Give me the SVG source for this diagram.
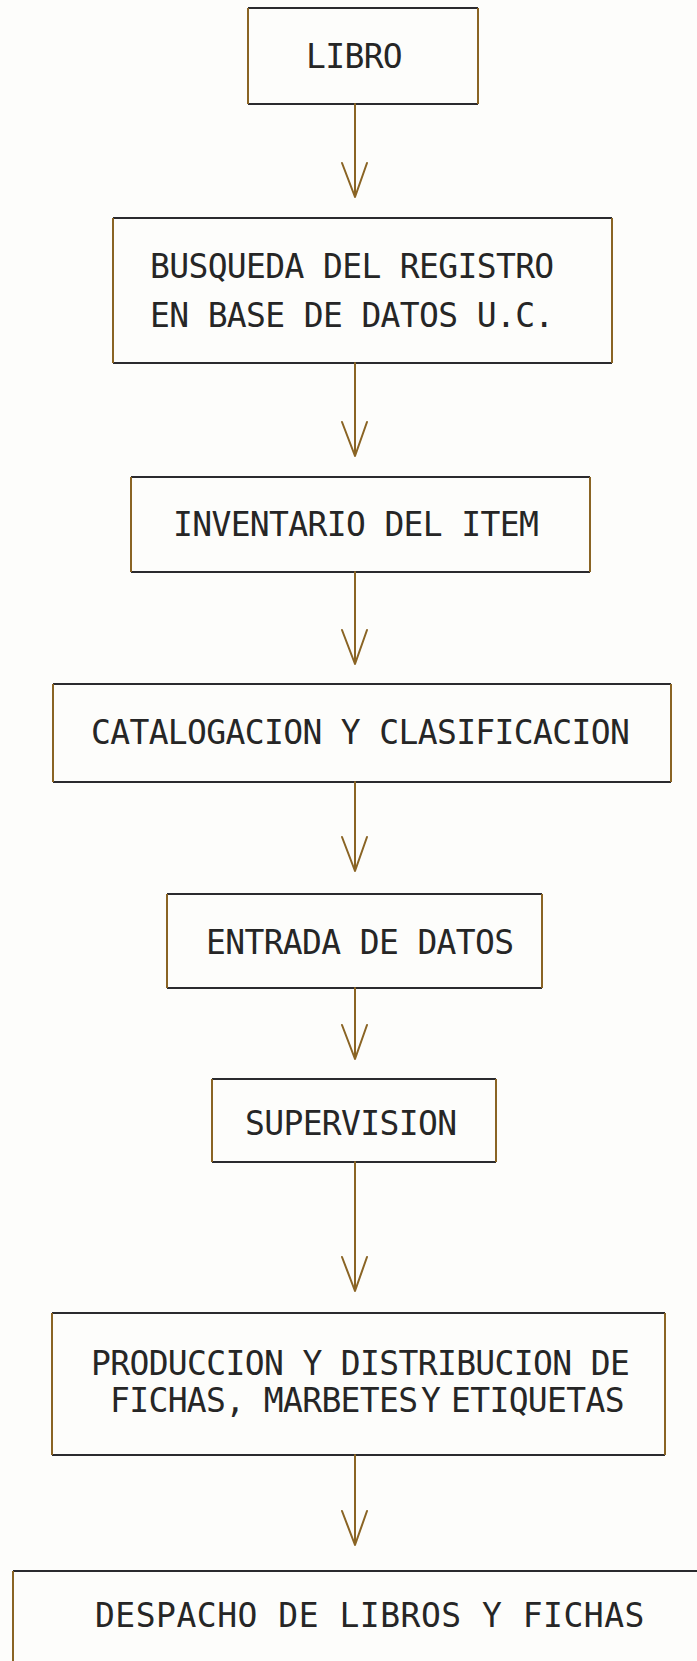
<svg xmlns="http://www.w3.org/2000/svg" width="697" height="1661" viewBox="0 0 697 1661">
<style>
.bg{fill:#fdfdfb}
.h{stroke:#2a2a2e;stroke-width:2.2;fill:none}
.v{stroke:#8a6424;stroke-width:2;fill:none}
.t{font-family:"DejaVu Sans Mono","Liberation Mono",monospace;font-size:33px;letter-spacing:-0.65px;fill:#262626}
.c{stroke:#8a6424;stroke-width:2;fill:none;stroke-linecap:round;stroke-linejoin:round}
</style>
<rect class="bg" x="0" y="0" width="697" height="1661"/>
<g id="n1">
<path class="h" d="M248 8H478M248 104H478"/><path class="v" d="M248 8V104M478 8V104"/>
<text class="t" x="306" y="68">LIBRO</text>
</g>
<g id="n2">
<path class="h" d="M113 218H612M113 363H612"/><path class="v" d="M113 218V363M612 218V363"/>
<text class="t" x="150" y="278">BUSQUEDA DEL REGISTRO</text>
<text class="t" x="150" y="327">EN BASE DE DATOS U.C.</text>
</g>
<g id="n3">
<path class="h" d="M131 477H590M131 572H590"/><path class="v" d="M131 477V572M590 477V572"/>
<text class="t" x="173" y="536">INVENTARIO DEL ITEM</text>
</g>
<g id="n4">
<path class="h" d="M53 684H671M53 782H671"/><path class="v" d="M53 684V782M671 684V782"/>
<text class="t" x="91" y="744">CATALOGACION Y CLASIFICACION</text>
</g>
<g id="n5">
<path class="h" d="M167 894H542M167 988H542"/><path class="v" d="M167 894V988M542 894V988"/>
<text class="t" x="206" y="954">ENTRADA DE DATOS</text>
</g>
<g id="n6">
<path class="h" d="M212 1079H496M212 1162H496"/><path class="v" d="M212 1079V1162M496 1079V1162"/>
<text class="t" x="245" y="1135">SUPERVISION</text>
</g>
<g id="n7">
<path class="h" d="M52 1313H665M52 1455H665"/><path class="v" d="M52 1313V1455M665 1313V1455"/>
<text class="t" x="91" y="1375">PRODUCCION Y DISTRIBUCION DE</text>
<text class="t" y="1412"><tspan x="110">FICHAS, MARBETES</tspan> <tspan x="421">Y</tspan> <tspan x="451">ETIQUETAS</tspan></text>
</g>
<g id="n8">
<path class="h" d="M13 1571H697"/><path class="v" d="M13 1571V1661"/>
<text class="t" x="95" y="1627" style="letter-spacing:0.5px">DESPACHO DE LIBROS Y FICHAS</text>
</g>
<g id="connectors">
<path class="c" d="M355 104V197M342 163L355 197L367 163"/>
<path class="c" d="M355 363V456M342 422L355 456L367 422"/>
<path class="c" d="M355 572V664M342 630L355 664L367 630"/>
<path class="c" d="M355 782V871M342 837L355 871L367 837"/>
<path class="c" d="M355 988V1059M342 1025L355 1059L367 1025"/>
<path class="c" d="M355 1162V1291M342 1257L355 1291L367 1257"/>
<path class="c" d="M355 1455V1545M342 1511L355 1545L367 1511"/>
</g>
</svg>
